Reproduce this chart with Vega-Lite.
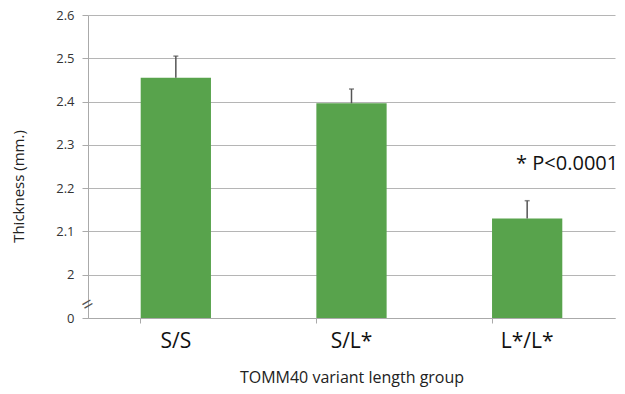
{
  "$schema": "https://vega.github.io/schema/vega-lite/v6.json",
  "width": 527,
  "height": 303,
  "autosize": {"type": "none"},
  "padding": {"left": 88, "top": 15, "right": 10, "bottom": 76},
  "background": "white",
  "config": {
    "view": {"stroke": null},
    "font": "Open Sans"
  },
  "data": {
    "values": [
      {"group": "S/S", "thickness": 2.455, "upper": 2.505},
      {"group": "S/L*", "thickness": 2.396, "upper": 2.429},
      {"group": "L*/L*", "thickness": 2.130, "upper": 2.171}
    ]
  },
  "encoding": {
    "x": {
      "field": "group",
      "type": "nominal",
      "sort": null,
      "scale": {"paddingInner": 0.6, "paddingOuter": 0.3},
      "axis": {
        "title": "TOMM40 variant length group",
        "titleFontSize": 16,
        "titleFontWeight": "normal",
        "titleColor": "#222",
        "titlePadding": 18,
        "labelAngle": 0,
        "labelFontSize": 21,
        "labelColor": "#111",
        "labelPadding": 7,
        "domainColor": "#aaaaaa",
        "tickColor": "#aaaaaa",
        "tickSize": 5,
        "bandPosition": 0
      }
    }
  },
  "layer": [
    {
      "mark": {"type": "bar", "color": "#58A34C"},
      "encoding": {
        "y": {
          "field": "thickness",
          "type": "quantitative",
          "scale": {"domain": [1.9, 2.6], "zero": false, "nice": false},
          "axis": {
            "title": "Thickness (mm.)",
            "titleFontSize": 15,
            "titleFontWeight": "normal",
            "titleColor": "#222",
            "titleAlign": "center",
            "titleBaseline": "middle",
            "titleAngle": -90,
            "titleX": -70,
            "titleY": 171,
            "values": [1.9, 2, 2.1, 2.2, 2.3, 2.4, 2.5, 2.6],
            "labelExpr": "datum.value < 1.95 ? '0' : (datum.value == 2 ? '2' : format(datum.value, '.1f'))",
            "labelFontSize": 13,
            "labelColor": "#333",
            "labelPadding": 8,
            "grid": true,
            "gridColor": "#b5b5b5",
            "gridWidth": 1,
            "domainColor": "#aaaaaa",
            "tickColor": "#aaaaaa",
            "tickSize": 6
          }
        },
        "y2": {"datum": 1.9}
      }
    },
    {
      "mark": {"type": "rule", "color": "#555555", "strokeWidth": 1.5},
      "encoding": {
        "y": {"field": "thickness", "type": "quantitative"},
        "y2": {"field": "upper"}
      }
    },
    {
      "mark": {"type": "tick", "color": "#555555", "size": 5, "thickness": 1.5},
      "encoding": {
        "y": {"field": "upper", "type": "quantitative"}
      }
    },
    {
      "data": {"values": [{"note": "* P<0.0001"}]},
      "mark": {"type": "text", "fontSize": 20, "fontWeight": "normal", "color": "#111", "align": "center", "baseline": "middle", "dx": 40},
      "encoding": {
        "x": {"datum": "L*/L*"},
        "y": {"datum": 2.255},
        "text": {"field": "note"}
      }
    },
    {
      "data": {"values": [{"mark": "="}]},
      "mark": {"type": "text", "fontSize": 20, "fontWeight": "normal", "color": "#555", "align": "center", "baseline": "middle", "angle": -30, "dx": -76.2, "dy": -44},
      "encoding": {
        "x": {"datum": "S/S"},
        "y": {"datum": 1.93},
        "text": {"field": "mark"}
      }
    }
  ]
}
